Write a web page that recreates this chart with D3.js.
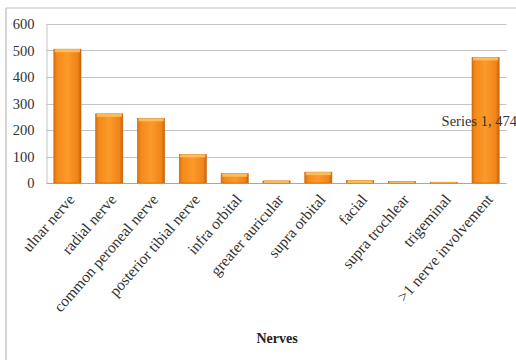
<!DOCTYPE html>
<html><head><meta charset="utf-8">
<script src="https://cdn.jsdelivr.net/npm/d3@7"></script>
<style>body{margin:0;background:#fff;overflow:hidden}svg{display:block}text{font-family:"Liberation Serif",serif}</style>
</head><body>
<svg id="c" width="516" height="360"></svg>
<script>
const categories = ["ulnar nerve","radial nerve","common peroneal nerve","posterior tibial nerve","infra orbital","greater auricular","supra orbital","facial","supra trochlear","trigeminal",">1 nerve involvement"];
const values = [505, 261, 244, 108, 35, 8, 41, 10, 5, 3, 474];
const yTicks = [0,100,200,300,400,500,600];
const seriesName = "Series 1";
const xTitle = "Nerves";

const svg = d3.select("#c");
const m = {left:46.5, right:506.5, top:24, bottom:183};
const x = d3.scaleBand().domain(categories).range([m.left, m.right]).paddingInner(0.35).paddingOuter(0.175);
const y = d3.scaleLinear().domain([0,600]).range([m.bottom, m.top]);

// outer frame
svg.append("line").attr("x1",6).attr("x2",6).attr("y1",8).attr("y2",360).attr("stroke","#d4d4d4").attr("stroke-width",2);
svg.append("line").attr("x1",6).attr("x2",516).attr("y1",8).attr("y2",8).attr("stroke","#d4d4d4").attr("stroke-width",1.5);

const defs = svg.append("defs");
const g1 = defs.append("linearGradient").attr("id","bg").attr("x1","0").attr("x2","1").attr("y1","0").attr("y2","0");
g1.append("stop").attr("offset","0").attr("stop-color","#d8700f");
g1.append("stop").attr("offset","0.12").attr("stop-color","#f58a1a");
g1.append("stop").attr("offset","0.5").attr("stop-color","#fb9a2a");
g1.append("stop").attr("offset","0.88").attr("stop-color","#f08418");
g1.append("stop").attr("offset","1").attr("stop-color","#c8620c");

// gridlines
svg.append("g").selectAll("line").data(yTicks).join("line")
  .attr("x1",m.left).attr("x2",m.right)
  .attr("y1",d=>Math.round(y(d))+0.5).attr("y2",d=>Math.round(y(d))+0.5)
  .attr("stroke",d=>d===0?"#a8a8a8":"#c4c4c4").attr("stroke-width",1.2);

// y axis
const ya = svg.append("g").attr("transform",`translate(${m.left},0)`)
  .call(d3.axisLeft(y).tickValues(yTicks).tickSize(0).tickPadding(12));
ya.attr("font-family",null).attr("font-size",null);
ya.select(".domain").attr("stroke","#c4c4c4");
ya.selectAll("text").style("font-family","'Liberation Serif', serif").style("font-size","14.5px").attr("fill","#333");

// bars
const bars = svg.append("g").selectAll("g").data(values).join("g");
bars.append("rect")
  .attr("x",(d,i)=>x(categories[i])).attr("width",x.bandwidth())
  .attr("y",d=>y(d)).attr("height",d=>y(0)-y(d))
  .attr("fill","url(#bg)").attr("stroke","#c9650e").attr("stroke-width",0.6);
bars.append("rect")
  .attr("x",(d,i)=>x(categories[i])+1).attr("width",x.bandwidth()-2)
  .attr("y",d=>y(d)).attr("height",d=>Math.min(3,y(0)-y(d)))
  .attr("fill","#fdc468").attr("opacity",0.85);

// x labels
const xa = svg.append("g").attr("transform",`translate(0,${m.bottom})`)
  .call(d3.axisBottom(x).tickSize(0).tickPadding(0));
xa.attr("font-family",null).attr("font-size",null);
xa.select(".domain").remove();
xa.selectAll("text")
  .style("font-family","'Liberation Serif', serif").style("font-size","15.5px").attr("fill","#333")
  .attr("text-anchor","end").attr("dy","0")
  .attr("transform","translate(8,17) rotate(-49)");

// data label
const last = categories.length-1;
svg.append("text").attr("x",x(categories[last])+x.bandwidth()/2 - 44).attr("y",y(values[last]/2)+6)
  .attr("text-anchor","start").style("font-size","14.5px").attr("fill","#333")
  .text(`${seriesName}, ${values[last]}`);

// axis title
svg.append("text").attr("x",277).attr("y",343).attr("text-anchor","middle")
  .attr("font-weight","bold").style("font-size","14px").attr("fill","#222")
  .text(xTitle);
</script>
</body></html>
